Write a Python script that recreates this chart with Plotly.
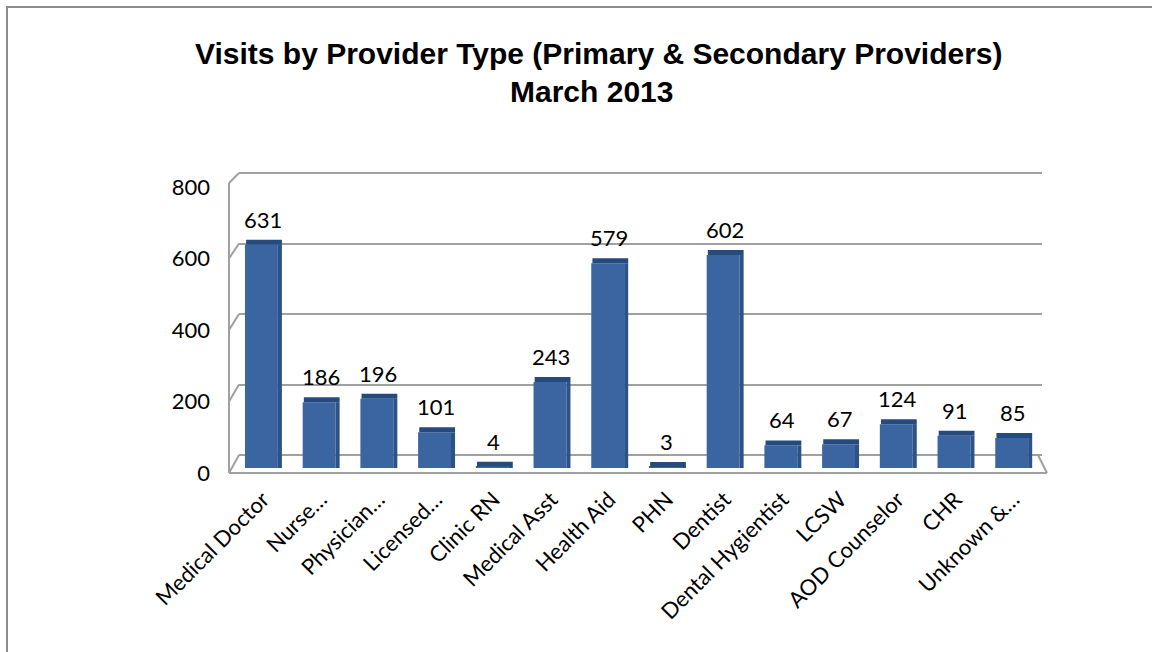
import plotly.graph_objects as go

# ---- data ----
categories = ["Medical Doctor", "Nurse…", "Physician…", "Licensed…", "Clinic RN",
              "Medical Asst", "Health Aid", "PHN", "Dentist", "Dental Hygientist",
              "LCSW", "AOD Counselor", "CHR", "Unknown &…"]
visits = [631, 186, 196, 101, 4, 243, 579, 3, 602, 64, 67, 124, 91, 85]
y_ticks = [0, 200, 400, 600, 800]
title_line1 = "Visits by Provider Type (Primary & Secondary Providers)"
title_line2 = "March 2013"

# ---- canvas / layout helpers (pixel -> paper fraction) ----
W, H = 1152, 652
ML, MR, MT, MB = 150, 102, 60, 100


def px_x(px):
    return (px - ML) / (W - ML - MR)


def px_y(py):
    return (H - MB - py) / (H - MT - MB)


FACE = "#3B65A1"
TOP = "#254A7E"
SIDE = "#2B5289"
GRID = "#A0A0A0"
CAP = 14  # depth of the bar cap, in axis units
LABEL_FONT = dict(family="Lato, Carlito, sans-serif", size=22, color="#000000")

# back wall (gridlines), bar plane and label plane, in pixels
BACK_X = (239, 1042)
BACK_Y = (455, 173)
BAR_X = (234, 1042)
BAR_Y = (468, 185)
LAB_Y = (473, 187)
FRONT_X = 229
PAD = 4  # axis units of headroom so the 0 and 800 gridlines are drawn


def back_y(v):
    return BACK_Y[0] + (BACK_Y[1] - BACK_Y[0]) * v / 800


def front_y(v):
    return LAB_Y[0] + (LAB_Y[1] - LAB_Y[0]) * v / 800


fig = go.Figure()

# invisible anchor for the back-wall gridlines subplot
fig.add_trace(go.Scatter(x=[0], y=[0], xaxis="x", yaxis="y", mode="markers",
                         marker=dict(opacity=0), hoverinfo="skip", showlegend=False))

# bar front faces
fig.add_trace(go.Bar(x=categories, y=visits, xaxis="x2", yaxis="y2",
                     marker=dict(color=FACE, line=dict(width=0)),
                     offset=-0.31, width=0.57, hoverinfo="skip", showlegend=False))
# bar right side faces
fig.add_trace(go.Bar(x=categories, y=visits, xaxis="x2", yaxis="y2",
                     marker=dict(color=SIDE, line=dict(width=0)),
                     offset=0.26, width=0.07, hoverinfo="skip", showlegend=False))
# bar top caps
fig.add_trace(go.Bar(x=categories, y=[CAP] * len(visits), base=visits,
                     xaxis="x2", yaxis="y2",
                     marker=dict(color=TOP, line=dict(width=0)),
                     offset=-0.29, width=0.62, hoverinfo="skip", showlegend=False))

# invisible anchor for the value-label axis
fig.add_trace(go.Scatter(x=[categories[0]], y=[0], xaxis="x2", yaxis="y3",
                         mode="markers", marker=dict(opacity=0),
                         hoverinfo="skip", showlegend=False))

# data labels
annotations = []
for c, v in zip(categories, visits):
    annotations.append(dict(x=c, y=v + CAP, xref="x2", yref="y2", text=str(v),
                            showarrow=False, yanchor="bottom", yshift=5,
                            font=LABEL_FONT))

# title
TITLE_FONT = dict(family="Arial, Liberation Sans, sans-serif", size=30, color="#000000")
annotations.append(dict(x=px_x(599), y=px_y(54), xref="paper", yref="paper",
                        text="<b>" + title_line1 + "</b>", showarrow=False,
                        xanchor="center", yanchor="middle", font=TITLE_FONT))
annotations.append(dict(x=px_x(591), y=px_y(91), xref="paper", yref="paper",
                        text="<b>" + title_line2 + "</b>", showarrow=False,
                        xanchor="center", yanchor="middle", font=TITLE_FONT))

# 3D wall / floor outline
shapes = []
line = dict(color=GRID, width=2)

# left wall: front edge and connectors to each gridline
shapes.append(dict(type="line", xref="paper", yref="paper",
                   x0=px_x(FRONT_X), y0=px_y(front_y(0)),
                   x1=px_x(FRONT_X), y1=px_y(front_y(800) - 4), line=line, layer="below"))
for t in y_ticks:
    shapes.append(dict(type="line", xref="paper", yref="paper",
                       x0=px_x(BACK_X[0]), y0=px_y(back_y(t)),
                       x1=px_x(FRONT_X), y1=px_y(front_y(t) - (4 if t == 800 else 0)),
                       line=line, layer="below"))
# floor front edge and right edge
shapes.append(dict(type="line", xref="paper", yref="paper",
                   x0=px_x(FRONT_X), y0=px_y(front_y(0)),
                   x1=px_x(1047), y1=px_y(front_y(0)), line=line, layer="below"))
shapes.append(dict(type="line", xref="paper", yref="paper",
                   x0=px_x(BACK_X[1] - 4), y0=px_y(back_y(0)),
                   x1=px_x(1047), y1=px_y(front_y(0)), line=line, layer="below"))
# chart frame
shapes.append(dict(type="rect", xref="paper", yref="paper",
                   x0=px_x(7), y0=px_y(7), x1=px_x(1170), y1=px_y(670),
                   line=dict(color="#8C8C8C", width=2), layer="below"))

fig.update_layout(
    width=W, height=H,
    margin=dict(l=ML, r=MR, t=MT, b=MB, autoexpand=False),
    paper_bgcolor="#FFFFFF", plot_bgcolor="rgba(0,0,0,0)",
    showlegend=False, hovermode=False, barmode="overlay",
    annotations=annotations, shapes=shapes,
    # back wall gridlines
    xaxis=dict(domain=[px_x(BACK_X[0]), px_x(BACK_X[1])], range=[0, 1],
               visible=False, fixedrange=True),
    yaxis=dict(domain=[px_y(back_y(-PAD)), px_y(back_y(800 + PAD))],
               range=[-PAD, 800 + PAD],
               anchor="x", tickvals=y_ticks, showticklabels=False,
               showgrid=True, gridcolor=GRID, gridwidth=2,
               zeroline=False, showline=False, ticks="", fixedrange=True),
    # bars and category labels
    xaxis2=dict(domain=[px_x(BAR_X[0]), px_x(BAR_X[1])], range=[-0.5, 13.5],
                anchor="y2", type="category", tickangle=-45, tickfont=LABEL_FONT,
                showgrid=False, zeroline=False, showline=False,
                ticks="outside", ticklen=9, tickcolor="rgba(0,0,0,0)", fixedrange=True),
    yaxis2=dict(domain=[px_y(BAR_Y[0]), px_y(BAR_Y[1])], range=[0, 800],
                anchor="x2", visible=False, fixedrange=True),
    # value axis labels
    yaxis3=dict(domain=[px_y(LAB_Y[0]), px_y(LAB_Y[1])], range=[0, 800],
                anchor="free", position=px_x(210), tickvals=y_ticks,
                tickfont=LABEL_FONT, showgrid=False, zeroline=False,
                showline=False, ticks="", fixedrange=True),
)

fig.write_html("out.html")
